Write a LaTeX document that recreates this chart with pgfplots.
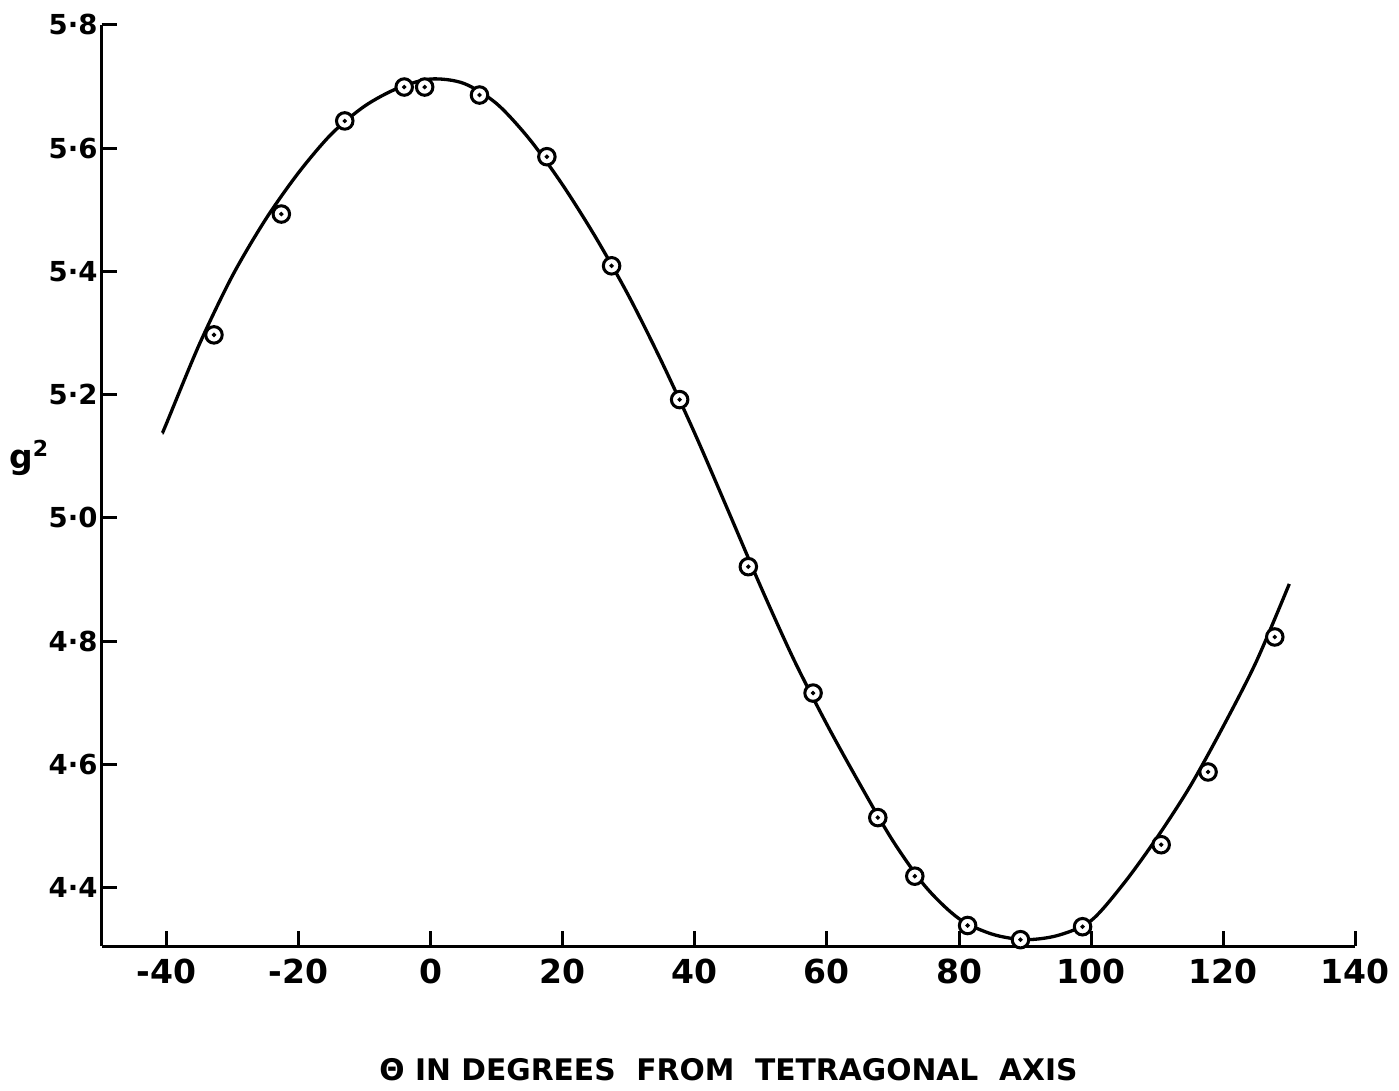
\documentclass[border=0pt]{standalone}
\usepackage{pgfplots}
\pgfplotsset{compat=1.18}
\usepackage{fontspec}
\setmainfont{DejaVu Sans}

% curve as drawn through the points
\pgfplotstableread{
x y
-40.6 5.138
-40 5.153
-35 5.282
-30 5.393
-25 5.484
-20 5.560
-15 5.623
-10 5.668
-5 5.697
0 5.712
5 5.705
10 5.672
15 5.614
20 5.540
25 5.455
30 5.360
35 5.253
40 5.137
45 5.013
50 4.888
55 4.770
60 4.665
65 4.568
70 4.476
75 4.401
80 4.350
85 4.325
90 4.316
95 4.323
100 4.347
105 4.408
110 4.482
115 4.565
120 4.662
125 4.767
130 4.893
}\curve

% measured points
\pgfplotstableread{
x y
-32.8 5.297
-22.6 5.493
-13.0 5.644
-4.0 5.699
-0.9 5.699
7.4 5.686
17.6 5.586
27.4 5.409
37.7 5.192
48.1 4.921
57.9 4.716
67.7 4.514
73.3 4.419
81.3 4.339
89.3 4.316
98.7 4.337
110.6 4.470
117.7 4.588
127.8 4.807
}\meas

\begin{document}
\begin{tikzpicture}
\begin{axis}[
    scale only axis,
    width=455.4pt, height=334.8pt,
    xmin=-49.8, xmax=140,
    ymin=4.305, ymax=5.8,
    axis x line*=bottom,
    axis y line*=left,
    axis line style={line width=1.1pt},
    tick style={line width=1.1pt, black},
    major tick length=5.5pt,
    xtick={-40,-20,0,20,40,60,80,100,120,140},
    xticklabels={-40,-20,0,20,40,60,80,100,120,140},
    ytick={4.4,4.6,4.8,5.0,5.2,5.4,5.6,5.8},
    yticklabels={4·4,4·6,4·8,5·0,5·2,5·4,5·6,5·8},
    x tick label style={font=\fontsize{12}{14}\selectfont\bfseries, yshift=-1pt},
    y tick label style={font=\fontsize{10}{12}\selectfont\bfseries, xshift=2pt},
    xlabel={Θ IN DEGREES\ \ FROM\ \ TETRAGONAL\ \ AXIS},
    xlabel style={font=\fontsize{10.8}{13}\selectfont\bfseries, at={(axis description cs:0.5,-0.134)}, anchor=center},
    clip=false,
]
\addplot[black, line width=1.2pt, smooth] table[x=x, y=y] {\curve};
\addplot[only marks, mark=*, mark size=3pt, mark options={fill=white, draw=black, line width=1.1pt}] table[x=x, y=y] {\meas};
\addplot[only marks, mark=*, mark size=0.6pt, black] table[x=x, y=y] {\meas};
\node[font=\fontsize{12}{14}\selectfont\bfseries] at (axis description cs:-0.0577,0.530) {g\textsuperscript{2}};
\end{axis}
\path (current axis.south west) ++(-36.7pt,-50.4pt) coordinate (bl);
\path (current axis.north east) ++(11.5pt,9pt) coordinate (tr);
\path[use as bounding box] (bl) rectangle (tr);
\end{tikzpicture}
\end{document}
